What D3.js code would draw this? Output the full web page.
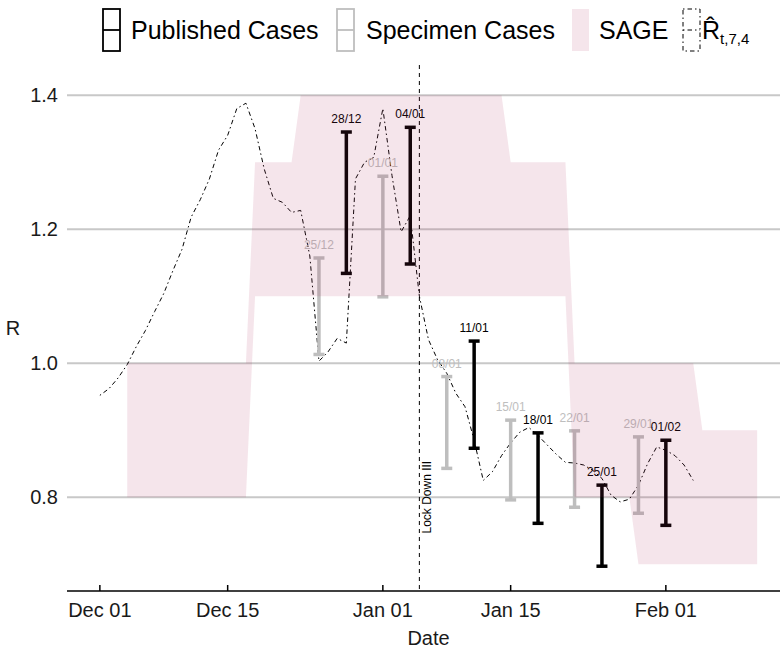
<!DOCTYPE html>
<html>
<head>
<meta charset="utf-8">
<script src="https://cdn.jsdelivr.net/npm/d3@7"></script>
<style>
  body { margin: 0; background: #fff; }
  svg { display: block; font-family: "Liberation Sans", Arial, Helvetica, sans-serif; }
</style>
</head>
<body>
<svg id="chart" width="780" height="651"></svg>
<script>
// ---- data -------------------------------------------------------------
// Daily R-hat estimate (t,7,4), starting 1 Dec 2020
const rHatStart = "2020-12-01";
const rHat = [
  0.952, 0.962, 0.978, 0.998, 1.025, 1.049, 1.077, 1.104, 1.138, 1.170,
  1.218, 1.244, 1.275, 1.318, 1.340, 1.380, 1.388, 1.350, 1.290, 1.246,
  1.240, 1.225, 1.228, 1.160, 1.003, 1.017, 1.037, 1.030, 1.275, 1.300,
  1.307, 1.380, 1.280, 1.196, 1.220, 1.100, 1.035, 1.005, 0.985, 0.955,
  0.935, 0.885, 0.825, 0.838, 0.862, 0.881, 0.897, 0.904, 0.892, 0.878,
  0.864, 0.852, 0.851, 0.848, 0.840, 0.828, 0.803, 0.793, 0.797, 0.818,
  0.850, 0.875, 0.870, 0.862, 0.848, 0.825
];

// SAGE consensus range
const sageDates = ["2020-12-04", "2020-12-17", "2020-12-18", "2020-12-22", "2020-12-23",
                   "2021-01-14", "2021-01-15", "2021-01-21", "2021-01-22", "2021-01-28",
                   "2021-01-29", "2021-02-04", "2021-02-05", "2021-02-11"];
const sageLow  = [0.8, 0.8, 1.1, 1.1, 1.1, 1.1, 1.1, 1.1, 0.8, 0.8, 0.7, 0.7, 0.7, 0.7];
const sageHigh = [1.0, 1.0, 1.3, 1.3, 1.4, 1.4, 1.3, 1.3, 1.0, 1.0, 1.0, 1.0, 0.9, 0.9];

// Weekly intervals from published case counts
const publishedDates  = ["2020-12-28", "2021-01-04", "2021-01-11", "2021-01-18", "2021-01-25", "2021-02-01"];
const publishedLabels = ["28/12", "04/01", "11/01", "18/01", "25/01", "01/02"];
const publishedLow    = [1.134, 1.148, 0.873, 0.761, 0.697, 0.758];
const publishedHigh   = [1.345, 1.352, 1.033, 0.896, 0.818, 0.885];

// Weekly intervals from specimen-date case counts
const specimenDates  = ["2020-12-25", "2021-01-01", "2021-01-08", "2021-01-15", "2021-01-22", "2021-01-29"];
const specimenLabels = ["25/12", "01/01", "08/01", "15/01", "22/01", "29/01"];
const specimenLow    = [1.013, 1.099, 0.843, 0.796, 0.785, 0.776];
const specimenHigh   = [1.157, 1.279, 0.980, 0.915, 0.899, 0.890];

const lockdownDate  = "2021-01-05";
const lockdownLabel = "Lock Down III";

const xTickDates  = ["2020-12-01", "2020-12-15", "2021-01-01", "2021-01-15", "2021-02-01"];
const xTickLabels = ["Dec 01", "Dec 15", "Jan 01", "Jan 15", "Feb 01"];
const yTicks = [0.8, 1.0, 1.2, 1.4];

// ---- setup ------------------------------------------------------------
const parse = d3.utcParse("%Y-%m-%d");
const svg = d3.select("#chart");
const panel = { left: 67, right: 790, top: 65, bottom: 591 };

const PUB = "#000000", SPEC = "#bebebe", LINE = "#000000";
const BAND = "rgb(174,43,87)", BAND_OPACITY = 0.12;
const GRID = "#c8c8c8";

const t0 = parse(rHatStart);
const rHatData = rHat.map((v, i) => ({ date: d3.utcDay.offset(t0, i), r: v }));
const sageData = sageDates.map((d, i) => ({ date: parse(d), lo: sageLow[i], hi: sageHigh[i] }));
const pubData  = publishedDates.map((d, i) => ({ date: parse(d), lo: publishedLow[i], hi: publishedHigh[i], label: publishedLabels[i] }));
const specData = specimenDates.map((d, i) => ({ date: parse(d), lo: specimenLow[i], hi: specimenHigh[i], label: specimenLabels[i] }));

// x range: data extent with 5% padding on both sides
const ext = d3.extent(rHatData.map(d => d.date).concat(sageData.map(d => d.date)));
const span = ext[1] - ext[0];
const x = d3.scaleUtc()
  .domain([new Date(+ext[0] - 0.05 * span), new Date(+ext[1] + 0.05 * span)])
  .range([panel.left, panel.right]);
const y = d3.scaleLinear().domain([0.66, 1.445]).range([panel.bottom, panel.top]);

// ---- gridlines & y labels --------------------------------------------
svg.append("g").selectAll("line").data(yTicks).join("line")
  .attr("x1", panel.left).attr("x2", panel.right)
  .attr("y1", d => y(d)).attr("y2", d => y(d))
  .attr("stroke", GRID).attr("stroke-width", 2);

svg.append("g").selectAll("text").data(yTicks).join("text")
  .attr("x", panel.left - 9).attr("y", d => y(d))
  .attr("dy", "0.35em").attr("text-anchor", "end")
  .attr("font-size", 20).attr("fill", "#1a1a1a")
  .text(d => d3.format(".1f")(d));

svg.append("text")
  .attr("x", 13).attr("y", (panel.top + panel.bottom) / 2)
  .attr("dy", "0.35em").attr("text-anchor", "middle")
  .attr("font-size", 20).attr("fill", "#1a1a1a").text("R");

// ---- x axis -----------------------------------------------------------
const xAxis = svg.append("g");
xAxis.append("line")
  .attr("x1", panel.left).attr("x2", panel.right)
  .attr("y1", panel.bottom).attr("y2", panel.bottom)
  .attr("stroke", "#000").attr("stroke-width", 1.5);
xAxis.selectAll(".tick").data(xTickDates).join("line")
  .attr("x1", d => x(parse(d))).attr("x2", d => x(parse(d)))
  .attr("y1", panel.bottom).attr("y2", panel.bottom - 6)
  .attr("stroke", "#000").attr("stroke-width", 1.5);
xAxis.selectAll("text").data(xTickDates).join("text")
  .attr("x", d => x(parse(d))).attr("y", 617)
  .attr("text-anchor", "middle").attr("font-size", 20).attr("fill", "#1a1a1a")
  .text((d, i) => xTickLabels[i]);
svg.append("text")
  .attr("x", (panel.left + panel.right) / 2).attr("y", 645)
  .attr("text-anchor", "middle").attr("font-size", 20).attr("fill", "#1a1a1a")
  .text("Date");

// ---- lockdown marker --------------------------------------------------
const xl = x(parse(lockdownDate));
svg.append("line")
  .attr("x1", xl).attr("x2", xl).attr("y1", panel.top).attr("y2", panel.bottom)
  .attr("stroke", "#000").attr("stroke-width", 1).attr("stroke-dasharray", "4,4");
svg.append("text")
  .attr("transform", `translate(${xl + 12},${y(0.8)}) rotate(-90)`)
  .attr("text-anchor", "middle").attr("font-size", 12).attr("fill", "#000")
  .text(lockdownLabel);

// ---- R-hat line -------------------------------------------------------
svg.append("path")
  .datum(rHatData)
  .attr("fill", "none").attr("stroke", LINE).attr("stroke-width", 1)
  .attr("stroke-dasharray", "1.5,3,4.5,3")
  .attr("d", d3.line().x(d => x(d.date)).y(d => y(d.r)));

// ---- error bars -------------------------------------------------------
function errorBars(data, colour) {
  const g = svg.append("g");
  const bars = g.selectAll("g").data(data).join("g");
  bars.append("line")
    .attr("x1", d => x(d.date)).attr("x2", d => x(d.date))
    .attr("y1", d => y(d.lo)).attr("y2", d => y(d.hi))
    .attr("stroke", colour).attr("stroke-width", 3.5);
  ["lo", "hi"].forEach(k => {
    bars.append("line")
      .attr("x1", d => x(d.date) - 5.5).attr("x2", d => x(d.date) + 5.5)
      .attr("y1", d => y(d[k])).attr("y2", d => y(d[k]))
      .attr("stroke", colour).attr("stroke-width", 3.5);
  });
  bars.append("text")
    .attr("x", d => x(d.date)).attr("y", d => y(d.hi) - 9)
    .attr("text-anchor", "middle").attr("font-size", 12).attr("fill", colour)
    .text(d => d.label);
}
errorBars(specData, SPEC);
errorBars(pubData, PUB);

// ---- SAGE band (translucent, on top) ----------------------------------
svg.append("path")
  .datum(sageData)
  .attr("fill", BAND).attr("fill-opacity", BAND_OPACITY)
  .attr("d", d3.area().x(d => x(d.date)).y0(d => y(d.lo)).y1(d => y(d.hi)));

// ---- legend -----------------------------------------------------------
const lg = svg.append("g");
const keyTop = 9, keyH = 42, keyW = 17, textBase = 39;

function boxKey(x0, colour, dash, sw) {
  lg.append("rect").attr("x", x0).attr("y", keyTop).attr("width", keyW).attr("height", keyH)
    .attr("fill", "none").attr("stroke", colour).attr("stroke-width", sw)
    .attr("stroke-dasharray", dash);
  lg.append("line").attr("x1", x0).attr("x2", x0 + keyW)
    .attr("y1", keyTop + keyH / 2).attr("y2", keyTop + keyH / 2)
    .attr("stroke", colour).attr("stroke-width", sw).attr("stroke-dasharray", dash);
}
function legendText(x0, str) {
  lg.append("text").attr("x", x0).attr("y", textBase)
    .attr("font-size", 25).attr("fill", "#000").text(str);
}

boxKey(103, PUB, null, 1.8);
legendText(131, "Published Cases");
boxKey(337, SPEC, null, 1.8);
legendText(366, "Specimen Cases");
lg.append("rect").attr("x", 572).attr("y", keyTop).attr("width", keyW).attr("height", keyH)
  .attr("fill", BAND).attr("fill-opacity", BAND_OPACITY);
legendText(599, "SAGE");
boxKey(683, LINE, "1.5,3,4.5,3", 1);

// R-hat (combining circumflex) with the t,7,4 subscript
const rh = lg.append("text").attr("x", 702).attr("y", textBase).attr("font-size", 25).attr("fill", "#000");
rh.append("tspan").text("R\u0302");
rh.append("tspan").attr("font-size", 15).attr("dy", 5).text("t,7,4");
</script>
</body>
</html>
